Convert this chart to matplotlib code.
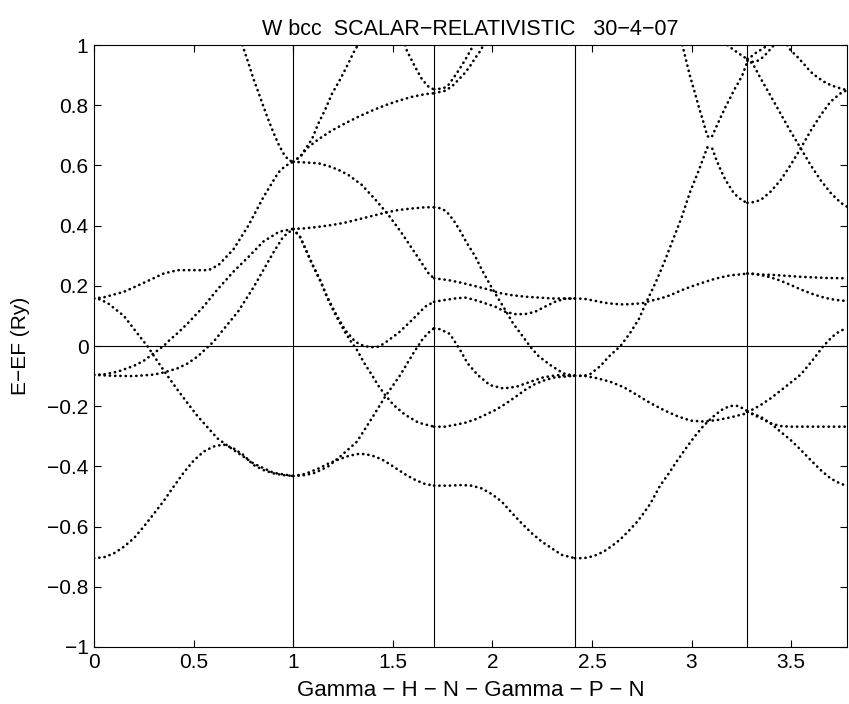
import matplotlib
matplotlib.use("Agg")
import matplotlib.pyplot as plt

# high symmetry points: Gamma - H - N - Gamma - P - N
kpts = [0.0, 1.0, 1.7071, 2.4142, 3.2802, 3.7802]
xticks = [0, 0.5, 1, 1.5, 2, 2.5, 3, 3.5]
xticklabels = ["0", "0.5", "1", "1.5", "2", "2.5", "3", "3.5"]
yticks = [-1, -0.8, -0.6, -0.4, -0.2, 0, 0.2, 0.4, 0.6, 0.8, 1]
yticklabels = ["\u22121", "\u22120.8", "\u22120.6", "\u22120.4", "\u22120.2", "0",
               "0.2", "0.4", "0.6", "0.8", "1"]

# ---- Gamma -> H
gh1_k = [0, 0.05, 0.1, 0.15, 0.2, 0.25, 0.3, 0.35, 0.4, 0.45, 0.5, 0.55, 0.6, 0.65, 0.7, 0.75, 0.8, 0.85, 0.9, 0.95, 1.0]
gh1_e = [-0.705, -0.702, -0.689, -0.667, -0.639, -0.60, -0.558, -0.515, -0.467, -0.421, -0.381, -0.351, -0.334, -0.327, -0.34, -0.362, -0.395, -0.412, -0.423, -0.429, -0.432]
gh2_k = [0, 0.03, 0.07, 0.15, 0.22, 0.27, 0.32, 0.37, 0.42, 0.47, 0.52, 0.57, 0.62, 0.70, 0.80, 0.90, 1.0]
gh2_e = [0.158, 0.155, 0.142, 0.10, 0.04, -0.002, -0.052, -0.10, -0.146, -0.19, -0.233, -0.27, -0.307, -0.345, -0.39, -0.421, -0.432]
gh3_k = [0, 0.1, 0.2, 0.3, 0.35, 0.42, 0.47, 0.52, 0.57, 0.6, 0.65, 0.725, 0.8, 0.85, 0.9, 0.95, 1.0]
gh3_e = [-0.096, -0.099, -0.10, -0.095, -0.088, -0.074, -0.058, -0.035, -0.004, 0.014, 0.055, 0.116, 0.194, 0.252, 0.31, 0.363, 0.389]
gh4_k = [0, 0.05, 0.12, 0.2, 0.25, 0.3, 0.35, 0.37, 0.42, 0.47, 0.55, 0.62, 0.7, 0.78, 0.85, 0.93, 1.0]
gh4_e = [-0.096, -0.094, -0.085, -0.066, -0.049, -0.024, 0.0, 0.014, 0.043, 0.075, 0.131, 0.188, 0.247, 0.299, 0.347, 0.38, 0.389]
gh5_k = [0, 0.05, 0.15, 0.25, 0.35, 0.42, 0.5, 0.575, 0.625, 0.7, 0.775, 0.85, 0.925, 0.96, 1.0]
gh5_e = [0.158, 0.162, 0.18, 0.21, 0.241, 0.252, 0.252, 0.252, 0.269, 0.321, 0.40, 0.494, 0.576, 0.598, 0.612]
gh6_k = [0.745, 0.775, 0.8, 0.826, 0.851, 0.876, 0.901, 0.926, 0.951, 0.976, 1.0]
gh6_e = [1.0, 0.941, 0.889, 0.842, 0.795, 0.751, 0.709, 0.671, 0.64, 0.618, 0.612]

# ---- H -> N
hn1_k = [1.0, 1.035, 1.052, 1.094, 1.127, 1.161, 1.194, 1.236, 1.27, 1.303, 1.325]
hn1_e = [0.612, 0.629, 0.646, 0.687, 0.74, 0.786, 0.837, 0.886, 0.93, 0.975, 1.0]
hn2_k = [1.0, 1.044, 1.069, 1.127, 1.194, 1.261, 1.328, 1.395, 1.462, 1.529, 1.596, 1.663, 1.7071]
hn2_e = [0.612, 0.635, 0.657, 0.687, 0.716, 0.74, 0.762, 0.782, 0.80, 0.815, 0.828, 0.837, 0.84]
hn3_k = [1.563, 1.571, 1.61, 1.647, 1.683, 1.7071]
hn3_e = [1.0, 0.981, 0.93, 0.886, 0.859, 0.853]
hn4_k = [1.0, 1.06, 1.127, 1.178, 1.228, 1.278, 1.345, 1.412, 1.479, 1.546, 1.613, 1.663, 1.68, 1.7071]
hn4_e = [0.612, 0.61, 0.607, 0.598, 0.585, 0.568, 0.535, 0.487, 0.435, 0.374, 0.308, 0.258, 0.241, 0.225]
hn5_k = [1.0, 1.06, 1.127, 1.194, 1.261, 1.328, 1.395, 1.462, 1.529, 1.596, 1.663, 1.7071]
hn5_e = [0.389, 0.391, 0.396, 0.402, 0.41, 0.421, 0.432, 0.443, 0.452, 0.457, 0.461, 0.461]
hn6_k = [1.0, 1.035, 1.069, 1.102, 1.136, 1.169, 1.211, 1.261, 1.312, 1.355, 1.395, 1.43, 1.462, 1.529, 1.596, 1.663, 1.7071]
hn6_e = [0.389, 0.363, 0.313, 0.264, 0.219, 0.166, 0.111, 0.053, 0.014, 0.0, -0.004, -0.002, 0.011, 0.044, 0.086, 0.131, 0.147]
hn7_k = [1.0, 1.035, 1.069, 1.102, 1.136, 1.169, 1.211, 1.261, 1.29, 1.32, 1.358, 1.395, 1.429, 1.462, 1.504, 1.563, 1.63, 1.7071]
hn7_e = [0.389, 0.361, 0.311, 0.262, 0.216, 0.163, 0.105, 0.045, 0.015, -0.013, -0.058, -0.096, -0.133, -0.163, -0.196, -0.229, -0.255, -0.268]
hn8_k = [1.0, 1.06, 1.111, 1.178, 1.245, 1.32, 1.395, 1.462, 1.538, 1.605, 1.647, 1.675, 1.7071]
hn8_e = [-0.432, -0.429, -0.421, -0.399, -0.362, -0.318, -0.24, -0.168, -0.096, -0.022, 0.02, 0.042, 0.059]
hn9_k = [1.0, 1.06, 1.127, 1.178, 1.228, 1.275, 1.32, 1.362, 1.405, 1.446, 1.488, 1.529, 1.571, 1.613, 1.66, 1.7071]
hn9_e = [-0.432, -0.425, -0.407, -0.39, -0.377, -0.366, -0.359, -0.359, -0.366, -0.377, -0.394, -0.412, -0.43, -0.445, -0.458, -0.464]

# ---- N -> Gamma
ng1_k = [1.7071, 1.754, 1.779, 1.821, 1.863, 1.896, 1.902]
ng1_e = [0.853, 0.856, 0.867, 0.906, 0.95, 0.989, 1.0]
ng2_k = [1.7071, 1.762, 1.796, 1.829, 1.863, 1.888, 1.913, 1.946, 1.952]
ng2_e = [0.84, 0.848, 0.862, 0.884, 0.908, 0.93, 0.956, 0.986, 1.0]
ng3_k = [1.7071, 1.745, 1.771, 1.804, 1.838, 1.871, 1.913, 1.946, 1.983, 2.022, 2.06, 2.106, 2.147, 2.19, 2.231, 2.29, 2.357, 2.4142]
ng3_e = [0.461, 0.457, 0.446, 0.419, 0.383, 0.343, 0.299, 0.255, 0.21, 0.166, 0.125, 0.073, 0.037, -0.002, -0.033, -0.063, -0.091, -0.099]
ng4_k = [1.7071, 1.779, 1.846, 1.913, 1.98, 2.03, 2.097, 2.164, 2.231, 2.298, 2.4142]
ng4_e = [0.225, 0.219, 0.21, 0.199, 0.188, 0.177, 0.169, 0.164, 0.161, 0.158, 0.158]
ng5_k = [1.7071, 1.762, 1.812, 1.863, 1.913, 1.963, 2.014, 2.064, 2.114, 2.164, 2.215, 2.265, 2.315, 2.365, 2.4142]
ng5_e = [0.147, 0.153, 0.158, 0.161, 0.153, 0.142, 0.131, 0.114, 0.106, 0.106, 0.114, 0.131, 0.147, 0.157, 0.158]
ng6_k = [1.7071, 1.735, 1.762, 1.787, 1.812, 1.838, 1.876, 1.926, 1.988, 2.055, 2.122, 2.19, 2.256, 2.323, 2.4142]
ng6_e = [0.059, 0.056, 0.048, 0.04, 0.014, -0.013, -0.058, -0.096, -0.13, -0.141, -0.135, -0.119, -0.104, -0.097, -0.099]
ng7_k = [1.7071, 1.762, 1.812, 1.863, 1.913, 1.963, 2.014, 2.064, 2.114, 2.164, 2.215, 2.265, 2.315, 2.4142]
ng7_e = [-0.268, -0.268, -0.262, -0.255, -0.244, -0.229, -0.213, -0.193, -0.17, -0.146, -0.126, -0.113, -0.104, -0.099]
ng8_k = [1.7071, 1.779, 1.846, 1.896, 1.946, 1.997, 2.047, 2.097, 2.147, 2.198, 2.248, 2.298, 2.348, 2.4142]
ng8_e = [-0.464, -0.464, -0.462, -0.464, -0.473, -0.492, -0.517, -0.554, -0.589, -0.622, -0.65, -0.672, -0.694, -0.705]

# ---- Gamma -> P
gp1_k = [2.4142, 2.459, 2.509, 2.559, 2.61, 2.66, 2.71, 2.752, 2.794, 2.844, 2.894, 2.945, 2.995, 3.045, 3.095, 3.146, 3.196, 3.246, 3.2802]
gp1_e = [0.158, 0.157, 0.151, 0.144, 0.14, 0.138, 0.14, 0.142, 0.15, 0.158, 0.169, 0.184, 0.197, 0.208, 0.219, 0.228, 0.235, 0.238, 0.241]
gp2_k = [2.4142, 2.459, 2.492, 2.543, 2.585, 2.643, 2.69, 2.735, 2.774, 2.819, 2.864, 2.906, 2.95, 2.991, 3.037, 3.079, 3.104, 3.126, 3.149, 3.171, 3.213, 3.255, 3.2802]
gp2_e = [-0.099, -0.099, -0.093, -0.066, -0.035, 0.0, 0.042, 0.089, 0.147, 0.21, 0.28, 0.352, 0.427, 0.509, 0.585, 0.66, 0.656, 0.616, 0.581, 0.551, 0.507, 0.483, 0.476]
gp3_k = [2.954, 2.97, 2.991, 3.015, 3.037, 3.059, 3.079, 3.092, 3.104, 3.126, 3.149, 3.171, 3.193, 3.213, 3.235, 3.255, 3.2802]
gp3_e = [1.0, 0.956, 0.90, 0.845, 0.793, 0.745, 0.698, 0.692, 0.698, 0.731, 0.764, 0.795, 0.823, 0.85, 0.875, 0.90, 0.945]
gp4_k = [3.18, 3.213, 3.238, 3.26, 3.2802]
gp4_e = [1.0, 0.983, 0.972, 0.961, 0.955]
gp5_k = [2.4142, 2.459, 2.526, 2.593, 2.66, 2.727, 2.794, 2.861, 2.928, 2.995, 3.062, 3.129, 3.196, 3.263, 3.2802]
gp5_e = [-0.099, -0.099, -0.107, -0.119, -0.137, -0.163, -0.19, -0.213, -0.233, -0.248, -0.251, -0.246, -0.237, -0.226, -0.218]
gp6_k = [2.4142, 2.459, 2.509, 2.559, 2.601, 2.643, 2.685, 2.727, 2.761, 2.794, 2.841, 2.886, 2.928, 2.975, 3.015, 3.059, 3.104, 3.149, 3.193, 3.235, 3.2802]
gp6_e = [-0.705, -0.705, -0.698, -0.683, -0.664, -0.642, -0.614, -0.584, -0.554, -0.523, -0.465, -0.423, -0.381, -0.337, -0.301, -0.266, -0.237, -0.213, -0.199, -0.199, -0.216]

# ---- P -> N
pn1_k = [3.2802, 3.30, 3.325, 3.35, 3.375, 3.39]
pn1_e = [0.952, 0.962, 0.975, 0.985, 0.996, 1.0]
pn1b_k = [3.2802, 3.305, 3.33, 3.355, 3.38, 3.405, 3.415]
pn1b_e = [0.948, 0.944, 0.947, 0.958, 0.974, 0.994, 1.0]
pn2_k = [3.2802, 3.31, 3.347, 3.397, 3.447, 3.497, 3.548, 3.598, 3.648, 3.698, 3.749, 3.7802]
pn2_e = [0.955, 0.935, 0.889, 0.831, 0.772, 0.713, 0.657, 0.601, 0.551, 0.509, 0.476, 0.463]
pn3_k = [3.2802, 3.31, 3.347, 3.397, 3.447, 3.497, 3.548, 3.598, 3.648, 3.698, 3.749, 3.7802]
pn3_e = [0.476, 0.478, 0.485, 0.513, 0.551, 0.601, 0.657, 0.715, 0.767, 0.812, 0.84, 0.85]
pn4_k = [3.48, 3.497, 3.531, 3.564, 3.598, 3.632, 3.665, 3.698, 3.732, 3.7802]
pn4_e = [1.0, 0.983, 0.961, 0.937, 0.911, 0.893, 0.878, 0.867, 0.859, 0.85]
pn5_k = [3.2802, 3.33, 3.414, 3.548, 3.682, 3.7802]
pn5_e = [0.241, 0.238, 0.236, 0.23, 0.226, 0.225]
pn6_k = [3.2802, 3.31, 3.347, 3.397, 3.447, 3.497, 3.548, 3.598, 3.648, 3.698, 3.75, 3.7802]
pn6_e = [0.241, 0.24, 0.236, 0.228, 0.217, 0.203, 0.188, 0.175, 0.164, 0.156, 0.151, 0.15]
pn7_k = [3.2802, 3.31, 3.347, 3.397, 3.447, 3.497, 3.548, 3.598, 3.63, 3.657, 3.682, 3.707, 3.732, 3.757, 3.7802]
pn7_e = [-0.218, -0.21, -0.196, -0.174, -0.148, -0.122, -0.095, -0.055, -0.028, -0.004, 0.014, 0.031, 0.044, 0.053, 0.059]
pn8_k = [3.2802, 3.31, 3.347, 3.397, 3.447, 3.497, 3.6, 3.7802]
pn8_e = [-0.218, -0.228, -0.24, -0.257, -0.266, -0.268, -0.268, -0.268]
pn9_k = [3.2802, 3.31, 3.347, 3.397, 3.447, 3.497, 3.548, 3.598, 3.648, 3.698, 3.749, 3.7802]
pn9_e = [-0.218, -0.226, -0.235, -0.257, -0.285, -0.312, -0.345, -0.379, -0.412, -0.44, -0.458, -0.464]

bands = [
    (gh1_k, gh1_e), (gh2_k, gh2_e), (gh3_k, gh3_e), (gh4_k, gh4_e), (gh5_k, gh5_e), (gh6_k, gh6_e),
    (hn1_k, hn1_e), (hn2_k, hn2_e), (hn3_k, hn3_e), (hn4_k, hn4_e), (hn5_k, hn5_e), (hn6_k, hn6_e),
    (hn7_k, hn7_e), (hn8_k, hn8_e), (hn9_k, hn9_e),
    (ng1_k, ng1_e), (ng2_k, ng2_e), (ng3_k, ng3_e), (ng4_k, ng4_e), (ng5_k, ng5_e), (ng6_k, ng6_e),
    (ng7_k, ng7_e), (ng8_k, ng8_e),
    (gp1_k, gp1_e), (gp2_k, gp2_e), (gp3_k, gp3_e), (gp4_k, gp4_e), (gp5_k, gp5_e), (gp6_k, gp6_e),
    (pn1_k, pn1_e), (pn1b_k, pn1b_e), (pn2_k, pn2_e), (pn3_k, pn3_e), (pn4_k, pn4_e),
    (pn5_k, pn5_e), (pn6_k, pn6_e), (pn7_k, pn7_e), (pn8_k, pn8_e), (pn9_k, pn9_e),
]

plt.rcParams['font.family'] = ['Liberation Sans', 'DejaVu Sans']

fig = plt.figure(figsize=(8.49, 7.04), dpi=100)
ax = fig.add_axes([0.1107, 0.081, 0.8869, 0.855])

for k, e in bands:
    ax.plot(k, e, color='k', lw=1.9, linestyle=(0, (0.1, 1.9)),
            dash_capstyle='round')

# symmetry lines and Fermi level
for x in kpts[1:-1]:
    ax.axvline(x, color='k', lw=0.8)
ax.axhline(0, color='k', lw=0.8)

ax.set_xlim(kpts[0], kpts[-1])
ax.set_ylim(-1, 1)
ax.set_xticks(xticks)
ax.set_xticklabels(xticklabels)
ax.set_yticks(yticks)
ax.set_yticklabels(yticklabels)
ax.tick_params(direction='in', length=5, width=0.8, top=True, right=True,
               labelsize=15, pad=4)
for s in ax.spines.values():
    s.set_linewidth(0.8)

ax.set_title("W bcc  SCALAR\u2212RELATIVISTIC   30\u22124\u221207", fontsize=15.5, pad=7)
ax.set_xlabel("Gamma \u2212 H \u2212 N \u2212 Gamma \u2212 P \u2212 N", fontsize=16, labelpad=6)
ax.set_ylabel("E\u2212EF (Ry)", fontsize=15, labelpad=12)

fig.savefig("out.png", dpi=100)
